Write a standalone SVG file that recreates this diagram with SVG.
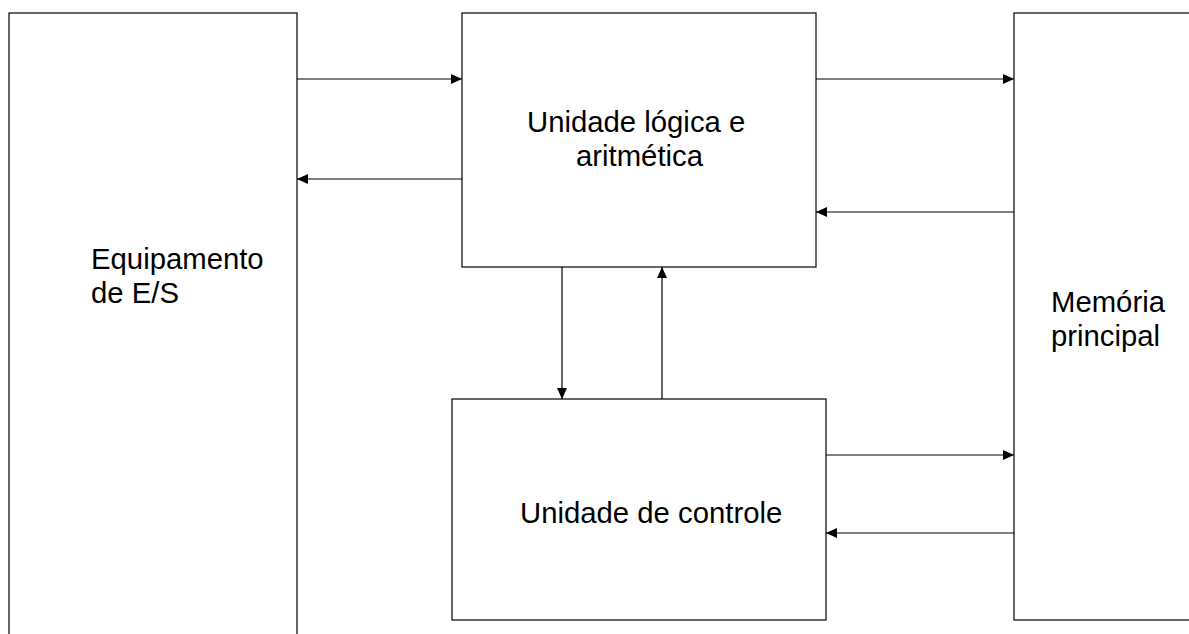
<svg xmlns="http://www.w3.org/2000/svg" width="1189" height="634" viewBox="0 0 1189 634">
<style>
.box{fill:#fff;stroke:#000;stroke-width:1.2}
.lbl{font-family:"Liberation Sans",Arial,sans-serif;font-size:29.3px;fill:#000}
.con{stroke:#000;stroke-width:1.2;fill:none;marker-end:url(#ah)}
</style>
<defs>
<marker id="ah" markerWidth="11" markerHeight="10" refX="11" refY="5" orient="auto" markerUnits="userSpaceOnUse">
<path d="M0,0 L11,5 L0,10 z" fill="#000"/>
</marker>
</defs>
<rect width="1189" height="634" fill="#fff"/>
<g id="es">
<rect class="box" x="9" y="13" width="288" height="640"/>
<text class="lbl" x="91" y="269">Equipamento</text>
<text class="lbl" x="91" y="303">de E/S</text>
</g>
<g id="ula">
<rect class="box" x="462" y="13" width="354" height="254"/>
<text class="lbl" x="527" y="132">Unidade lógica e</text>
<text class="lbl" x="576" y="166">aritmética</text>
</g>
<g id="uc">
<rect class="box" x="452" y="399" width="374" height="221"/>
<text class="lbl" x="520" y="523">Unidade de controle</text>
</g>
<g id="mem">
<rect class="box" x="1014" y="13" width="200" height="607"/>
<text class="lbl" x="1051" y="312">Memória</text>
<text class="lbl" x="1051" y="346">principal</text>
</g>
<g id="connectors">
<line class="con" x1="297" y1="79" x2="462" y2="79"/>
<line class="con" x1="462" y1="179" x2="297" y2="179"/>
<line class="con" x1="816" y1="79" x2="1014" y2="79"/>
<line class="con" x1="1014" y1="212" x2="816" y2="212"/>
<line class="con" x1="826" y1="455" x2="1014" y2="455"/>
<line class="con" x1="1014" y1="533" x2="826" y2="533"/>
<line class="con" x1="562" y1="267" x2="562" y2="399"/>
<line class="con" x1="662" y1="399" x2="662" y2="267"/>
</g>
</svg>
